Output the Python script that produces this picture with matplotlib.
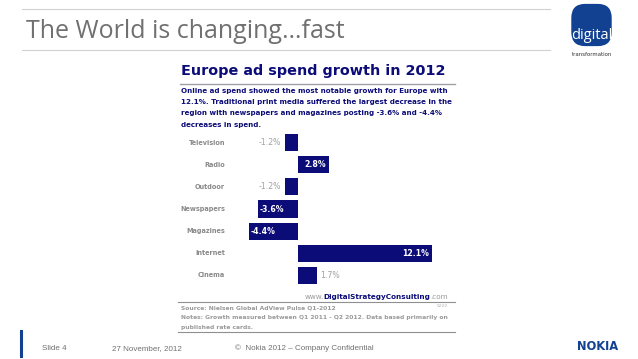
import matplotlib.pyplot as plt
from matplotlib.patches import FancyBboxPatch
from matplotlib.lines import Line2D

# data
categories = ["Television", "Radio", "Outdoor", "Newspapers", "Magazines", "Internet", "Cinema"]
growth = [-1.2, 2.8, -1.2, -3.6, -4.4, 12.1, 1.7]
value_labels = ["-1.2%", "2.8%", "-1.2%", "-3.6%", "-4.4%", "12.1%", "1.7%"]

W, H = 638, 359
NAVY = "#0c0c78"
GRAY = "#8a8a8a"
NOKIA_BLUE = "#124191"


def fx(x):
    return x / W


def fy(y):
    return 1 - y / H


fig = plt.figure(figsize=(6.38, 3.59), dpi=100)
fig.patch.set_facecolor("white")


def hline(x0, x1, y, color="#d0d0d0", lw=0.8):
    fig.add_artist(Line2D([fx(x0), fx(x1)], [fy(y), fy(y)], color=color, lw=lw,
                          transform=fig.transFigure))


# slide header
hline(22, 550, 9)
hline(22, 550, 50)
fig.text(fx(26), fy(31), "The World is changing\u2026fast", fontsize=18,
         color="#707070", family="Open Sans", va="center", ha="left")

# logo (own small axes so the rounded square keeps its shape)
lax = fig.add_axes([fx(570), fy(47), fx(43), 44 / H])
lax.set_xlim(0, 1)
lax.set_ylim(0, 1)
lax.axis("off")
lax.add_patch(FancyBboxPatch((0.03, 0.02), 0.94, 0.96,
                             boxstyle="round,pad=0,rounding_size=0.32",
                             facecolor=NOKIA_BLUE, edgecolor="none"))
lax.text(0.5, 0.27, "digital", fontsize=10.5, color="white", family="Open Sans",
         ha="center", va="center")
fig.text(fx(592), fy(54), "transformation", fontsize=3.9, color="#333333",
         ha="center", va="center")

# chart image title block
fig.text(fx(181), fy(71), "Europe ad spend growth in 2012", fontsize=10.4, color=NAVY,
         family="DejaVu Sans", weight="bold", va="center", ha="left")
hline(180, 455, 84, color="#a0a0a8", lw=1.0)
sub = ["Online ad spend showed the most notable growth for Europe with",
       "12.1%. Traditional print media suffered the largest decrease in the",
       "region with newspapers and magazines posting -3.6% and -4.4%",
       "decreases in spend."]
for i, line in enumerate(sub):
    fig.text(fx(181), fy(91 + i * 11.2), line, fontsize=5.15, color=NAVY, weight="bold",
             va="center", ha="left")

# bars
ax = fig.add_axes([fx(180), fy(288), fx(450) - fx(180), (288 - 130) / H])
ax.set_xlim(-10.66, 13.73)
ax.set_ylim(6.564, -0.564)
ax.axis("off")
ypos = list(range(len(categories)))
ax.barh(ypos, growth, height=0.77, color=NAVY)

for y, cat, v, lab in zip(ypos, categories, growth, value_labels):
    ax.text(-6.6, y, cat, ha="right", va="center", fontsize=4.7, color=GRAY, weight="bold")
    if abs(v) >= 2.5:
        if v > 0:
            ax.text(v - 0.25, y, lab, ha="right", va="center", fontsize=5.6,
                    color="white", weight="bold")
        else:
            ax.text(v + 0.15, y, lab, ha="left", va="center", fontsize=5.6,
                    color="white", weight="bold")
    else:
        if v > 0:
            ax.text(v + 0.3, y, lab, ha="left", va="center", fontsize=5.6, color="#a0a0a0")
        else:
            ax.text(v - 0.3, y, lab, ha="right", va="center", fontsize=5.6, color="#a0a0a0")

# chart footer: www.DigitalStrategyConsulting.com built right to left
com = fig.text(fx(448), fy(297), ".com", fontsize=5.2, color="#9a9a9a", ha="right", va="center")
dsc = fig.add_artist(plt.Annotation("DigitalStrategyConsulting", xy=(0, 0.5), xycoords=com,
                                    fontsize=5.2, color=NAVY, weight="bold",
                                    ha="right", va="center"))
fig.add_artist(plt.Annotation("www.", xy=(0, 0.5), xycoords=dsc, fontsize=5.2,
                              color="#9a9a9a", ha="right", va="center"))
hline(178, 455, 302, color="#909090", lw=0.8)
note_kw = dict(fontsize=4.3, color="#9a9a9a", weight="bold", ha="left", va="center")
fig.text(fx(181), fy(308), "Source: Nielsen Global AdView Pulse Q1-2012", **note_kw)
fig.text(fx(448), fy(306), "5222", fontsize=3.2, color="#b0b0b0", ha="right", va="center")
fig.text(fx(181), fy(318), "Notes: Growth measured between Q1 2011 - Q2 2012. Data based primarily on",
         **note_kw)
fig.text(fx(181), fy(327), "published rate cards.", **note_kw)
hline(178, 455, 332, color="#909090", lw=0.8)

# slide footer
fig.add_artist(Line2D([fx(21), fx(21)], [fy(331), fy(356)], color=NOKIA_BLUE, lw=2.2,
                      transform=fig.transFigure))
foot_kw = dict(fontsize=5.8, color="#707070", family="Liberation Sans", va="center", ha="left")
fig.text(fx(42), fy(348), "Slide 4", **foot_kw)
fig.text(fx(112), fy(349), "27 November, 2012", **foot_kw)
fig.text(fx(235), fy(348), "\u00a9  Nokia 2012 \u2013 Company Confidential", **foot_kw)
fig.text(fx(598), fy(346), "NOKIA", fontsize=8.3, color=NOKIA_BLUE, weight="bold",
         family="DejaVu Sans", ha="center", va="center")

fig.savefig("out.png", dpi=100)
